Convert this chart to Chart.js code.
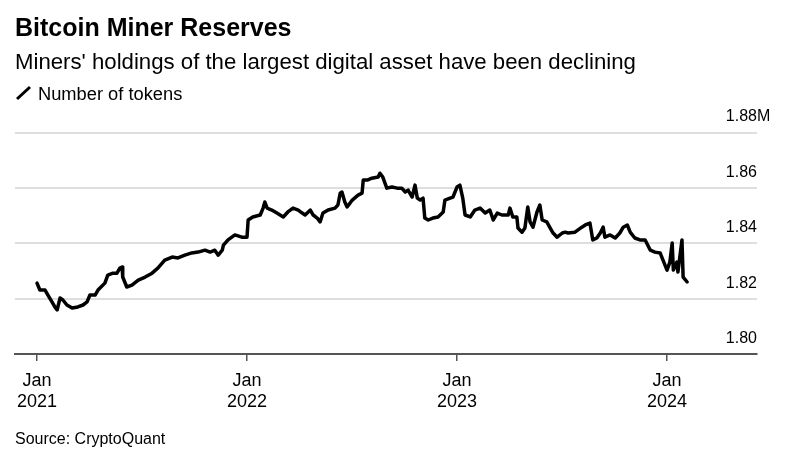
<!DOCTYPE html>
<html><head><meta charset="utf-8">
<script src="https://cdn.jsdelivr.net/npm/chart.js@4.4.1/dist/chart.umd.min.js"></script>
<style>
html,body{margin:0;padding:0;background:#fff;}
body{width:789px;height:449px;position:relative;overflow:hidden;font-family:"Liberation Sans",Arial,sans-serif;color:#000;}
#c{position:absolute;left:0;top:0;}
.t{position:absolute;left:15px;white-space:nowrap;line-height:1;z-index:2;}
#title{top:15px;font-size:25px;font-weight:bold;}
#sub{top:51px;font-size:22.2px;}
#leg{top:85px;left:38px;font-size:18.3px;}
#legicon{position:absolute;left:14px;top:84px;z-index:2;}
#src{top:431px;font-size:16px;}
</style></head><body>
<canvas id="c" width="789" height="449"></canvas>
<div class="t" id="title">Bitcoin Miner Reserves</div>
<div class="t" id="sub">Miners' holdings of the largest digital asset have been declining</div>
<svg id="legicon" width="20" height="20"><line x1="3" y1="15" x2="16" y2="3" stroke="#000" stroke-width="3"/></svg>
<div class="t" id="leg">Number of tokens</div>
<div class="t" id="src">Source: CryptoQuant</div>
<script>
const dates = ['2021-01-01','2021-01-06','2021-01-15','2021-01-20','2021-01-27','2021-02-01','2021-02-05','2021-02-10','2021-02-15','2021-02-22','2021-03-03','2021-03-13','2021-03-22','2021-03-29','2021-04-03','2021-04-12','2021-04-17','2021-04-29','2021-05-04','2021-05-13','2021-05-20','2021-05-25','2021-05-29','2021-05-30','2021-06-06','2021-06-15','2021-06-26','2021-07-08','2021-07-20','2021-07-30','2021-08-11','2021-08-24','2021-09-03','2021-09-15','2021-09-27','2021-10-08','2021-10-20','2021-10-29','2021-11-06','2021-11-12','2021-11-19','2021-11-21','2021-11-29','2021-12-11','2021-12-23','2022-01-01','2022-01-03','2022-01-11','2022-01-24','2022-01-29','2022-02-01','2022-02-05','2022-02-13','2022-02-22','2022-03-05','2022-03-13','2022-03-22','2022-03-31','2022-04-07','2022-04-12','2022-04-21','2022-04-26','2022-05-03','2022-05-08','2022-05-13','2022-05-22','2022-06-03','2022-06-08','2022-06-12','2022-06-15','2022-06-20','2022-06-24','2022-07-03','2022-07-13','2022-07-20','2022-07-22','2022-07-29','2022-08-06','2022-08-17','2022-08-20','2022-08-25','2022-09-01','2022-09-10','2022-09-19','2022-09-27','2022-10-03','2022-10-08','2022-10-15','2022-10-20','2022-10-24','2022-10-29','2022-11-03','2022-11-06','2022-11-12','2022-11-20','2022-11-29','2022-12-08','2022-12-11','2022-12-20','2022-12-25','2023-01-01','2023-01-06','2023-01-11','2023-01-15','2023-01-24','2023-02-01','2023-02-10','2023-02-19','2023-02-27','2023-03-05','2023-03-12','2023-03-20','2023-03-31','2023-04-03','2023-04-08','2023-04-15','2023-04-17','2023-04-24','2023-04-29','2023-05-04','2023-05-08','2023-05-13','2023-05-20','2023-05-25','2023-05-29','2023-06-06','2023-06-12','2023-06-17','2023-06-24','2023-07-03','2023-07-08','2023-07-13','2023-07-25','2023-08-06','2023-08-12','2023-08-20','2023-08-25','2023-09-01','2023-09-07','2023-09-12','2023-09-15','2023-09-24','2023-10-03','2023-10-11','2023-10-17','2023-10-24','2023-10-29','2023-11-06','2023-11-15','2023-11-24','2023-12-03','2023-12-11','2023-12-20','2023-12-25','2024-01-01','2024-01-06','2024-01-10','2024-01-12','2024-01-18','2024-01-20','2024-01-27','2024-01-29','2024-02-05'];
const reserves = [1.8256,1.8231,1.8231,1.8213,1.8188,1.8170,1.8159,1.8202,1.8195,1.8177,1.8166,1.8170,1.8177,1.8188,1.8213,1.8213,1.8231,1.8256,1.8285,1.8292,1.8292,1.8310,1.8314,1.8278,1.8242,1.8249,1.8267,1.8278,1.8292,1.8310,1.8339,1.8350,1.8347,1.8357,1.8365,1.8368,1.8375,1.8368,1.8375,1.8357,1.8375,1.8393,1.8412,1.8430,1.8422,1.8422,1.8484,1.8495,1.8502,1.8527,1.8549,1.8527,1.8520,1.8509,1.8495,1.8513,1.8527,1.8520,1.8509,1.8502,1.8520,1.8502,1.8491,1.8477,1.8509,1.8520,1.8527,1.8538,1.8581,1.8585,1.8549,1.8531,1.8556,1.8574,1.8581,1.8628,1.8628,1.8635,1.8639,1.8653,1.8639,1.8599,1.8603,1.8599,1.8599,1.8585,1.8592,1.8567,1.8610,1.8563,1.8556,1.8563,1.8491,1.8484,1.8491,1.8495,1.8513,1.8556,1.8563,1.8567,1.8603,1.8610,1.8563,1.8502,1.8495,1.8520,1.8527,1.8509,1.8520,1.8484,1.8509,1.8502,1.8502,1.8527,1.8495,1.8495,1.8455,1.8440,1.8455,1.8531,1.8477,1.8458,1.8513,1.8538,1.8484,1.8477,1.8455,1.8437,1.8422,1.8437,1.8440,1.8437,1.8440,1.8458,1.8466,1.8473,1.8412,1.8419,1.8437,1.8458,1.8422,1.8430,1.8419,1.8437,1.8458,1.8466,1.8440,1.8419,1.8412,1.8412,1.8375,1.8368,1.8365,1.8339,1.8303,1.8332,1.8401,1.8303,1.8332,1.8296,1.8412,1.8278,1.8260];
const yearTicks = ['2021','2022','2023','2024'];
const yTicks = [1.80, 1.82, 1.84, 1.86, 1.88];

const DAY = 86400000;
const base = Date.UTC(2021,0,1);
function dayOf(s){ const p = s.split('-').map(Number); return (Date.UTC(p[0],p[1]-1,p[2]) - base)/DAY; }
const points = dates.map((d,i)=>({x:dayOf(d), y:reserves[i]}));
const tickDays = yearTicks.map(y=>dayOf(y+'-01-01'));
const FONT = '"Liberation Sans", Arial, sans-serif';
const LABEL_OFF = -15.5;

const mPlugin = {
  id:'mSuffix',
  afterDraw(chart){
    const s = chart.scales.y; const ctx = chart.ctx;
    ctx.save();
    ctx.font = '16px ' + FONT;
    ctx.fillStyle = '#000'; ctx.textAlign = 'left'; ctx.textBaseline = 'middle';
    ctx.fillText('M', chart.chartArea.right, s.getPixelForValue(yTicks[yTicks.length-1]) + LABEL_OFF);
    ctx.restore();
  }
};

new Chart(document.getElementById('c'), {
  type:'line',
  data:{ datasets:[{ data:points, borderColor:'#000', borderWidth:3.5, pointRadius:0, tension:0, borderJoinStyle:'round', borderCapStyle:'round', fill:false }]},
  options:{
    responsive:false, animation:false, events:[],
    layout:{ padding:{ left:15, right:32, top:132.5, bottom:36 } },
    plugins:{ legend:{display:false}, tooltip:{enabled:false} },
    scales:{
      x:{ type:'linear', min:-38.24, max:1251.4,
        afterBuildTicks(s){ s.ticks = tickDays.map(v=>({value:v})); },
        afterFit(s){ s.height = 59; },
        border:{ display:true, color:'#555', width:2 },
        grid:{ display:true, drawOnChartArea:false, drawTicks:true, tickLength:7, color:'#555', lineWidth:1.5 },
        ticks:{ padding:9, maxRotation:0, autoSkip:false, color:'#000', font:{ family:FONT, size:18 },
          callback(v){ const i = tickDays.indexOf(v); return i>=0 ? ['Jan', yearTicks[i]] : ''; } }
      },
      y:{ position:'right', min:1.80, max:1.88,
        afterBuildTicks(s){ s.ticks = yTicks.map(v=>({value:v})); },
        border:{ display:false },
        grid:{ color:'#dedede', lineWidth:2, drawTicks:false },
        ticks:{ mirror:true, padding:0, labelOffset:LABEL_OFF, color:'#000', font:{ family:FONT, size:16 },
          callback(v){ return v.toFixed(2); } }
      }
    }
  },
  plugins:[mPlugin]
});
</script>
</body></html>
